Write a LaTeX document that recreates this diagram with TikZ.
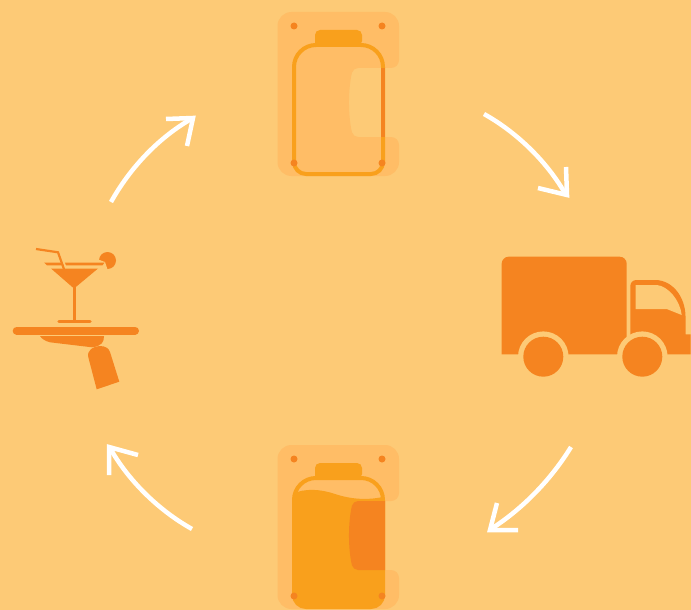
\documentclass[tikz,border=0pt]{standalone}
\usepackage{tikz}
\usetikzlibrary{arrows.meta,calc}
\usepackage{xcolor}
\definecolor{CycleBack}{HTML}{FDCA76}
\definecolor{CyclePanel}{HTML}{FFBD66}
\definecolor{CycleAmber}{HTML}{F9A01C}
\definecolor{CycleOrange}{HTML}{F58420}
\tikzset{
  cyclearrow/.style={white,line width=4.5pt,line cap=butt,line join=miter},
  jarline/.style={CycleAmber,line width=4pt},
  truckfill/.style={fill=CycleOrange},
  trayline/.style={CycleOrange,line cap=round}
}
\newcommand{\jarpanel}{%
  (277.5,94) [rounded corners=14pt] -- (277.5,12) -- (399,12)
  [rounded corners=8pt] -- (399,68) [rounded corners=5pt] -- (353,68)
  .. controls (348,90) and (348,115) .. (353,137)
  [rounded corners=8pt] -- (399,137) [rounded corners=14pt] -- (399,176)
  -- (277.5,176) -- cycle}
\newcommand{\jarnotch}{%
  (385,68) [rounded corners=5pt] -- (353,68)
  .. controls (348,90) and (348,115) .. (353,137) [sharp corners] -- (385,137) -- cycle}
\newcommand{\jarbody}{%
  (294,100) [rounded corners=22pt] -- (294,45) -- (383,45)
  [rounded corners=12pt] -- (383,174) -- (294,174) -- cycle}
\newcommand{\jarcap}{%
  [rounded corners=5pt] (315,46) -- (315,30) -- (362,30) -- (362,46) [sharp corners] -- cycle}
\begin{document}
\begin{tikzpicture}[x=1pt,y=-1pt]
  \fill[CycleBack] (0,0) rectangle (691,610);
  \useasboundingbox (0,0) rectangle (691,610);
  % empty jar
  \fill[CyclePanel] \jarpanel;
  \fill[CycleAmber] \jarcap;
  \draw[jarline] \jarbody;
  \draw[CycleOrange,line width=4pt] (383,68)--(383,137);
  \foreach \x/\y in {294/26,382/26,294/163,382/163}
    \fill[CycleOrange] (\x,\y) circle (3.5);
  % filled jar
  \begin{scope}[yshift=-433pt]
    \fill[CyclePanel] \jarpanel;
    \fill[CycleAmber] \jarcap;
    \draw[jarline] \jarbody;
    \begin{scope}
      \clip \jarbody;
      \fill[CycleAmber] (292,61) .. controls (305,55) and (320,56) .. (335,61)
        .. controls (350,66) and (368,68) .. (387,63) -- (387,178) -- (292,178) -- cycle;
    \end{scope}
    \fill[CycleOrange] \jarnotch;
    \foreach \x/\y in {294/26,382/26,294/163,382/163}
      \fill[CycleOrange] (\x,\y) circle (3.5);
  \end{scope}
  % truck
  \fill[truckfill] (501.7,354.3) [rounded corners=7pt] -- (501.7,256.7) -- (626.7,256.7)
    [sharp corners] -- (626.7,354.3) -- cycle;
  \fill[truckfill] (630.3,354.3) [rounded corners=6pt] -- (630.3,280) [sharp corners] -- (655,280)
    .. controls (672,280) and (685,296) .. (685.5,316) -- (685.5,334.3)
    -- (690.7,334.3) -- (690.7,354.3) -- cycle;
  \fill[CycleBack] (635.7,285) -- (656.7,285)
    .. controls (668,286) and (680,300) .. (681.7,315)
    -- (666.7,309) -- (635.7,309) -- cycle;
  \foreach \x in {543.3,642.3}{
    \fill[CycleBack] (\x,356.7) circle (25.3);
    \fill[CycleOrange] (\x,356.7) circle (20);
  }
  % cocktail on the tray
  \fill[CycleOrange] (107.5,260.5) circle (8.5);
  \fill[CycleBack] (97,259) -- (105,262) -- (108,271) -- (95,271) -- cycle;
  \fill[CycleOrange] (44,262.5) -- (104.5,262.5) -- (102.5,265.3) -- (47,265.3) -- cycle;
  \draw[CycleBack,line width=2pt] (62,258) -- (66.5,270);
  \draw[CycleOrange,line width=2.2pt] (36,249) -- (58,252.3) -- (64.3,270);
  \fill[CycleOrange] (51,268.5) -- (98,268.5) -- (74,288.5) -- cycle;
  \draw[CycleOrange,line width=3pt] (74,285) -- (74,321);
  \draw[trayline,line width=3.5pt] (59,321.7) -- (90,321.7);
  \draw[trayline,line width=8pt] (16.7,330.7) -- (135,330.7);
  \fill[CycleOrange] (40,336) -- (104,336) .. controls (104,342) and (102,346) .. (92,347.3)
    -- (50,342.3) .. controls (45,341) and (42,339) .. (40,336) -- cycle;
  \fill[CycleOrange] (96.7,389.3) -- (88.5,358) .. controls (86,350) and (94,346) .. (100,346)
    .. controls (106,346) and (109,349) .. (110,352) -- (119.3,381.7) -- cycle;
  % arrows round the cycle
  \draw[cyclearrow] (111,202) .. controls (130,168) and (158,138) .. (192,118.5);
  \draw[cyclearrow] (166,119) -- (193,118) -- (187,146);
  \draw[cyclearrow] (484,114) .. controls (518,133) and (548,163) .. (566,195);
  \draw[cyclearrow] (566,167) -- (567,195) -- (538,188);
  \draw[cyclearrow] (571,447) .. controls (552,478) and (524,508) .. (491,529);
  \draw[cyclearrow] (497,503) -- (490,530) -- (518,530);
  \draw[cyclearrow] (192,529) .. controls (158,510) and (128,480) .. (110,448);
  \draw[cyclearrow] (138,455) -- (109,447) -- (109,475);
\end{tikzpicture}
\end{document}
